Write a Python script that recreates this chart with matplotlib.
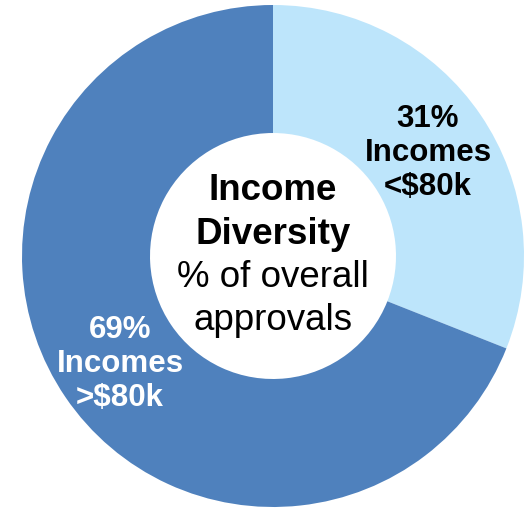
import matplotlib
matplotlib.use("Agg")
import matplotlib.pyplot as plt

# data
labels = ["Incomes\n<$80k", "Incomes\n>$80k"]
shares = [31, 69]
colors = ["#BDE5FB", "#4F81BD"]
label_colors = ["black", "white"]
title_bold = ["Income", "Diversity"]
title_plain = ["% of overall", "approvals"]

plt.rcParams["font.family"] = ["Liberation Sans", "DejaVu Sans"]

fig = plt.figure(figsize=(5.29, 5.08), dpi=100)
ax = fig.add_axes([0, 0, 1, 1])

R = 251
ax.pie(shares, colors=colors, startangle=90, counterclock=False,
       radius=R, wedgeprops=dict(width=R * 0.51, linewidth=0),
       center=(0, 0), frame=True)
ax.set_xlim(-273, 256)
ax.set_ylim(-252, 256)
ax.set_aspect("equal")
ax.axis("off")

# slice labels, one line at a time (baselines)
label_x = [155, -153]
label_y0 = [129, -82]
for x, y0, s, lab, c in zip(label_x, label_y0, shares, labels, label_colors):
    lines = [f"{s}%"] + lab.split("\n")
    for i, ln in enumerate(lines):
        ax.text(x, y0 - i * 34, ln, ha="center", va="baseline", fontsize=22.5,
                fontweight="bold", color=c)

# center title
for i, ln in enumerate(title_bold + title_plain):
    ax.text(0, 56 - i * 43.5, ln, ha="center", va="baseline", fontsize=26.5,
            fontweight="bold" if ln in title_bold else "normal", color="black")

fig.savefig("out.png", dpi=100)
